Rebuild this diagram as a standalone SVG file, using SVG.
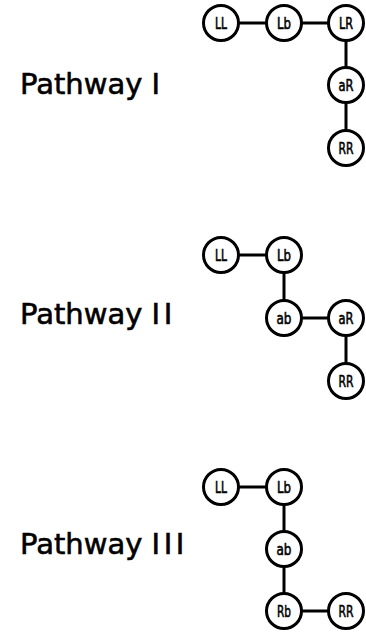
<svg xmlns="http://www.w3.org/2000/svg" width="366" height="637" viewBox="0 0 366 637">
<style>
.edge{stroke:#000;stroke-width:3;fill:none}
.node circle{fill:#fff;stroke:#000;stroke-width:3}
.node text{font-family:"DejaVu Sans",sans-serif;font-size:15px;text-anchor:middle;fill:#000;stroke:#000;stroke-width:0.6}
.title{font-family:"DejaVu Sans",sans-serif;font-size:29px;fill:#000;stroke:#000;stroke-width:0.6}
</style>
<rect width="366" height="637" fill="#fff"/>
<text class="title" x="20" y="94">Pathway I</text>
<text class="title" x="20" y="324">Pathway <tspan letter-spacing="3.5">II</tspan></text>
<text class="title" x="20" y="554">Pathway <tspan letter-spacing="3.5">III</tspan></text>
<g id="connectors">
<line class="edge" x1="221" y1="23" x2="346" y2="23"/>
<line class="edge" x1="346" y1="23" x2="346" y2="148"/>
<line class="edge" x1="221" y1="255" x2="284" y2="255"/>
<line class="edge" x1="284" y1="255" x2="284" y2="318"/>
<line class="edge" x1="284" y1="318" x2="346" y2="318"/>
<line class="edge" x1="346" y1="318" x2="346" y2="381"/>
<line class="edge" x1="221" y1="487" x2="284" y2="487"/>
<line class="edge" x1="284" y1="487" x2="284" y2="611"/>
<line class="edge" x1="284" y1="611" x2="346" y2="611"/>
</g>
<g id="p1-LL" class="node"><circle cx="221" cy="23" r="17.5"/><text x="221" y="28.5" textLength="12" lengthAdjust="spacingAndGlyphs">LL</text></g>
<g id="p1-Lb" class="node"><circle cx="284" cy="23" r="17.5"/><text x="284" y="28.5" textLength="14" lengthAdjust="spacingAndGlyphs">Lb</text></g>
<g id="p1-LR" class="node"><circle cx="346" cy="23" r="17.5"/><text x="346" y="28.5" textLength="14" lengthAdjust="spacingAndGlyphs">LR</text></g>
<g id="p1-aR" class="node"><circle cx="346" cy="85" r="17.5"/><text x="346" y="90.5" textLength="15" lengthAdjust="spacingAndGlyphs">aR</text></g>
<g id="p1-RR" class="node"><circle cx="346" cy="148" r="17.5"/><text x="346" y="153.5" textLength="15" lengthAdjust="spacingAndGlyphs">RR</text></g>
<g id="p2-LL" class="node"><circle cx="221" cy="255" r="17.5"/><text x="221" y="260.5" textLength="12" lengthAdjust="spacingAndGlyphs">LL</text></g>
<g id="p2-Lb" class="node"><circle cx="284" cy="255" r="17.5"/><text x="284" y="260.5" textLength="14" lengthAdjust="spacingAndGlyphs">Lb</text></g>
<g id="p2-ab" class="node"><circle cx="284" cy="318" r="17.5"/><text x="284" y="323.5" textLength="15" lengthAdjust="spacingAndGlyphs">ab</text></g>
<g id="p2-aR" class="node"><circle cx="346" cy="318" r="17.5"/><text x="346" y="323.5" textLength="15" lengthAdjust="spacingAndGlyphs">aR</text></g>
<g id="p2-RR" class="node"><circle cx="346" cy="381" r="17.5"/><text x="346" y="386.5" textLength="15" lengthAdjust="spacingAndGlyphs">RR</text></g>
<g id="p3-LL" class="node"><circle cx="221" cy="487" r="17.5"/><text x="221" y="492.5" textLength="12" lengthAdjust="spacingAndGlyphs">LL</text></g>
<g id="p3-Lb" class="node"><circle cx="284" cy="487" r="17.5"/><text x="284" y="492.5" textLength="14" lengthAdjust="spacingAndGlyphs">Lb</text></g>
<g id="p3-ab" class="node"><circle cx="284" cy="549" r="17.5"/><text x="284" y="554.5" textLength="15" lengthAdjust="spacingAndGlyphs">ab</text></g>
<g id="p3-Rb" class="node"><circle cx="284" cy="611" r="17.5"/><text x="284" y="616.5" textLength="14" lengthAdjust="spacingAndGlyphs">Rb</text></g>
<g id="p3-RR" class="node"><circle cx="346" cy="611" r="17.5"/><text x="346" y="616.5" textLength="15" lengthAdjust="spacingAndGlyphs">RR</text></g>
</svg>
